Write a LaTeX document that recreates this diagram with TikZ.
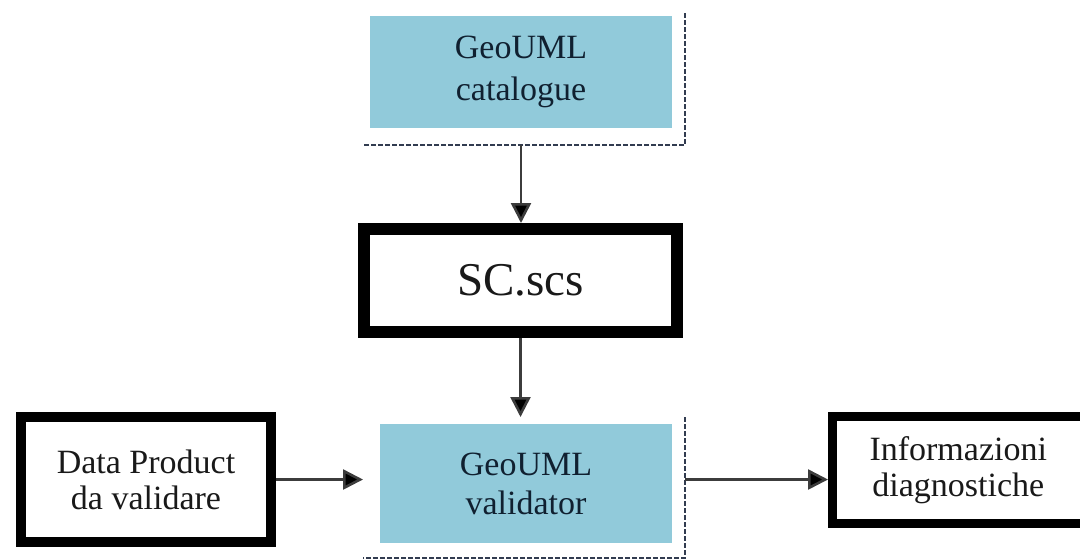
\documentclass[tikz,border=0pt]{standalone}
\usepackage{fontspec}
\setmainfont{Liberation Serif}
\usetikzlibrary{arrows.meta}
\definecolor{boxblue}{RGB}{145,202,218}
\definecolor{bluetext}{RGB}{16,32,48}
\definecolor{shadowc}{RGB}{50,60,80}
\definecolor{arrowc}{RGB}{60,60,60}
\tikzset{
  bluebox/.style={fill=boxblue, draw=none, inner sep=0pt, align=center,
    text=bluetext, font=\fontsize{17pt}{19.5pt}\selectfont},
  framebox/.style={draw=none, inner sep=0pt, outer sep=0pt},
  shadowline/.style={draw=shadowc, line width=1.4pt, dash pattern=on 2.5pt off 1pt},
  thickbox/.style={draw=black, fill=white, inner sep=0pt, align=center,
    text={rgb,255:red,25;green,25;blue,25}, font=\fontsize{17pt}{18pt}\selectfont},
  flow/.style={draw=arrowc, line width=1.3pt, -{Triangle[width=10pt,length=10pt,fill=black]}},
}
\begin{document}
\begin{tikzpicture}[x=0.5pt,y=-0.5pt]
\useasboundingbox (0,0) rectangle (1080,559);
% catalogue
\node[framebox, minimum width=161pt, minimum height=66pt] (catf) at (524,79) {};
\node[bluebox, minimum width=151pt, minimum height=56pt,
  font=\fontsize{17pt}{21pt}\selectfont] (cat) at (521,72) {GeoUML\\catalogue};
\draw[shadowline] (catf.north east) -- (catf.south east) -- (catf.south west);
% SC.scs
\node[thickbox, line width=6pt, minimum width=156.5pt, minimum height=51.5pt,
  font=\fontsize{23.5pt}{28pt}\selectfont] (sc) at (520.5,280.5) {SC.scs};
% validator
\node[framebox, minimum width=161pt, minimum height=70.5pt] (valf) at (524,487.5) {};
\node[bluebox, minimum width=146pt, minimum height=59.5pt] (val) at (526,483.5) {GeoUML\\validator};
\draw[shadowline] (valf.north east) -- (valf.south east) -- (valf.south west);
% data product
\node[thickbox, line width=5pt, minimum width=125pt, minimum height=62.5pt] (dp) at (146,479.5) {Data Product\\da validare};
% informazioni
\node[thickbox, line width=4.5pt, minimum width=125.75pt, minimum height=53.5pt] (info) at (958.25,470) {Informazioni\\diagnostiche};
% arrows
\draw[flow] (cat.south |- catf.south) -- (cat.south |- sc.north);
\draw[flow] (sc.south) -- (sc.south |- valf.north);
\draw[flow] (dp.east) -- (dp.east -| valf.west);
\draw[flow] (dp.east -| valf.east) -- (dp.east -| info.west);
\end{tikzpicture}
\end{document}
